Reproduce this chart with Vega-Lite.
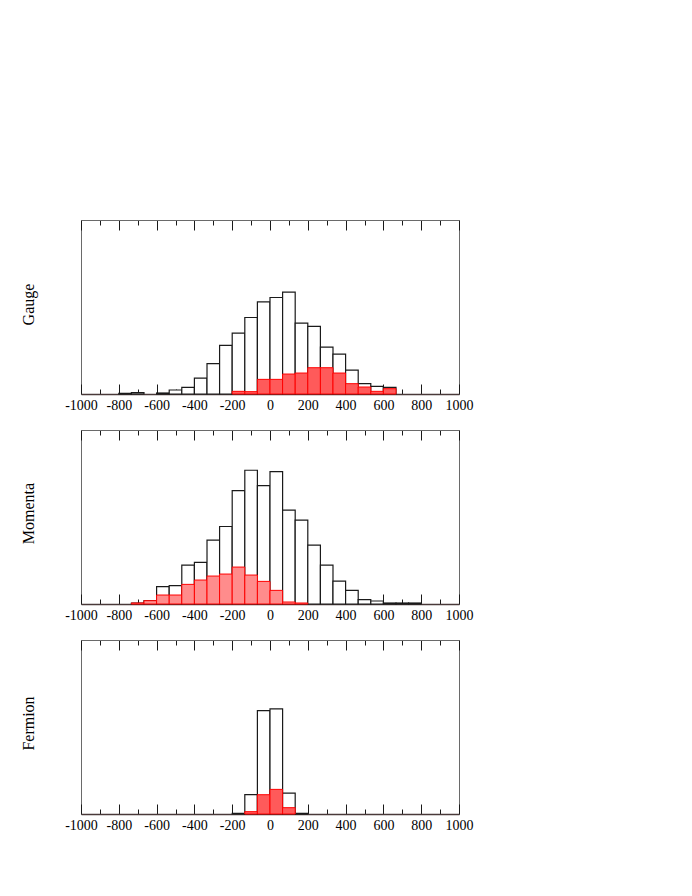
{
  "$schema": "https://vega.github.io/schema/vega-lite/v6.json",
  "bounds": "flush",
  "spacing": 36,
  "padding": {"left": 19, "top": 219, "right": 0, "bottom": 0},
  "background": "white",
  "config": {
    "view": {"stroke": "#6a6a6a", "strokeWidth": 1},
    "axis": {"grid": false, "labelFont": "Liberation Serif", "labelFontSize": 14, "labelColor": "black", "titleFont": "Liberation Serif", "titleFontSize": 16, "titleFontWeight": "normal", "titleColor": "black"}
  },
  "datasets": {
    "hist": [
      {"panel": "Gauge", "series": "all", "lo": -800, "hi": -733.3, "n": 2},
      {"panel": "Gauge", "series": "all", "lo": -733.3, "hi": -666.7, "n": 4},
      {"panel": "Gauge", "series": "all", "lo": -600, "hi": -533.3, "n": 3},
      {"panel": "Gauge", "series": "all", "lo": -533.3, "hi": -466.7, "n": 12},
      {"panel": "Gauge", "series": "all", "lo": -466.7, "hi": -400, "n": 20},
      {"panel": "Gauge", "series": "all", "lo": -400, "hi": -333.3, "n": 48},
      {"panel": "Gauge", "series": "all", "lo": -333.3, "hi": -266.7, "n": 91},
      {"panel": "Gauge", "series": "all", "lo": -266.7, "hi": -200, "n": 146},
      {"panel": "Gauge", "series": "all", "lo": -200, "hi": -133.3, "n": 183},
      {"panel": "Gauge", "series": "all", "lo": -133.3, "hi": -66.7, "n": 230},
      {"panel": "Gauge", "series": "all", "lo": -66.7, "hi": 0, "n": 277},
      {"panel": "Gauge", "series": "all", "lo": 0, "hi": 66.7, "n": 290},
      {"panel": "Gauge", "series": "all", "lo": 66.7, "hi": 133.3, "n": 306},
      {"panel": "Gauge", "series": "all", "lo": 133.3, "hi": 200, "n": 213},
      {"panel": "Gauge", "series": "all", "lo": 200, "hi": 266.7, "n": 203},
      {"panel": "Gauge", "series": "all", "lo": 266.7, "hi": 333.3, "n": 141},
      {"panel": "Gauge", "series": "all", "lo": 333.3, "hi": 400, "n": 120},
      {"panel": "Gauge", "series": "all", "lo": 400, "hi": 466.7, "n": 72},
      {"panel": "Gauge", "series": "all", "lo": 466.7, "hi": 533.3, "n": 31},
      {"panel": "Gauge", "series": "all", "lo": 533.3, "hi": 600, "n": 23},
      {"panel": "Gauge", "series": "all", "lo": 600, "hi": 666.7, "n": 20},
      {"panel": "Gauge", "series": "sub", "lo": -200, "hi": -133.3, "n": 8},
      {"panel": "Gauge", "series": "sub", "lo": -133.3, "hi": -66.7, "n": 7},
      {"panel": "Gauge", "series": "sub", "lo": -66.7, "hi": 0, "n": 44},
      {"panel": "Gauge", "series": "sub", "lo": 0, "hi": 66.7, "n": 44},
      {"panel": "Gauge", "series": "sub", "lo": 66.7, "hi": 133.3, "n": 60},
      {"panel": "Gauge", "series": "sub", "lo": 133.3, "hi": 200, "n": 63},
      {"panel": "Gauge", "series": "sub", "lo": 200, "hi": 266.7, "n": 79},
      {"panel": "Gauge", "series": "sub", "lo": 266.7, "hi": 333.3, "n": 79},
      {"panel": "Gauge", "series": "sub", "lo": 333.3, "hi": 400, "n": 63},
      {"panel": "Gauge", "series": "sub", "lo": 400, "hi": 466.7, "n": 31},
      {"panel": "Gauge", "series": "sub", "lo": 466.7, "hi": 533.3, "n": 21},
      {"panel": "Gauge", "series": "sub", "lo": 533.3, "hi": 600, "n": 8},
      {"panel": "Gauge", "series": "sub", "lo": 600, "hi": 666.7, "n": 16},
      {"panel": "Momenta", "series": "all", "lo": -733.3, "hi": -666.7, "n": 3},
      {"panel": "Momenta", "series": "all", "lo": -666.7, "hi": -600, "n": 10},
      {"panel": "Momenta", "series": "all", "lo": -600, "hi": -533.3, "n": 52},
      {"panel": "Momenta", "series": "all", "lo": -533.3, "hi": -466.7, "n": 55},
      {"panel": "Momenta", "series": "all", "lo": -466.7, "hi": -400, "n": 117},
      {"panel": "Momenta", "series": "all", "lo": -400, "hi": -333.3, "n": 125},
      {"panel": "Momenta", "series": "all", "lo": -333.3, "hi": -266.7, "n": 192},
      {"panel": "Momenta", "series": "all", "lo": -266.7, "hi": -200, "n": 233},
      {"panel": "Momenta", "series": "all", "lo": -200, "hi": -133.3, "n": 341},
      {"panel": "Momenta", "series": "all", "lo": -133.3, "hi": -66.7, "n": 402},
      {"panel": "Momenta", "series": "all", "lo": -66.7, "hi": 0, "n": 356},
      {"panel": "Momenta", "series": "all", "lo": 0, "hi": 66.7, "n": 398},
      {"panel": "Momenta", "series": "all", "lo": 66.7, "hi": 133.3, "n": 282},
      {"panel": "Momenta", "series": "all", "lo": 133.3, "hi": 200, "n": 252},
      {"panel": "Momenta", "series": "all", "lo": 200, "hi": 266.7, "n": 177},
      {"panel": "Momenta", "series": "all", "lo": 266.7, "hi": 333.3, "n": 117},
      {"panel": "Momenta", "series": "all", "lo": 333.3, "hi": 400, "n": 69},
      {"panel": "Momenta", "series": "all", "lo": 400, "hi": 466.7, "n": 41},
      {"panel": "Momenta", "series": "all", "lo": 466.7, "hi": 533.3, "n": 13},
      {"panel": "Momenta", "series": "all", "lo": 533.3, "hi": 600, "n": 9},
      {"panel": "Momenta", "series": "all", "lo": 600, "hi": 666.7, "n": 3},
      {"panel": "Momenta", "series": "all", "lo": 666.7, "hi": 733.3, "n": 3},
      {"panel": "Momenta", "series": "all", "lo": 733.3, "hi": 800, "n": 3},
      {"panel": "Momenta", "series": "sub", "lo": -733.3, "hi": -666.7, "n": 3},
      {"panel": "Momenta", "series": "sub", "lo": -666.7, "hi": -600, "n": 10},
      {"panel": "Momenta", "series": "sub", "lo": -600, "hi": -533.3, "n": 27},
      {"panel": "Momenta", "series": "sub", "lo": -533.3, "hi": -466.7, "n": 27},
      {"panel": "Momenta", "series": "sub", "lo": -466.7, "hi": -400, "n": 59},
      {"panel": "Momenta", "series": "sub", "lo": -400, "hi": -333.3, "n": 72},
      {"panel": "Momenta", "series": "sub", "lo": -333.3, "hi": -266.7, "n": 84},
      {"panel": "Momenta", "series": "sub", "lo": -266.7, "hi": -200, "n": 90},
      {"panel": "Momenta", "series": "sub", "lo": -200, "hi": -133.3, "n": 111},
      {"panel": "Momenta", "series": "sub", "lo": -133.3, "hi": -66.7, "n": 87},
      {"panel": "Momenta", "series": "sub", "lo": -66.7, "hi": 0, "n": 68},
      {"panel": "Momenta", "series": "sub", "lo": 0, "hi": 66.7, "n": 41},
      {"panel": "Momenta", "series": "sub", "lo": 66.7, "hi": 133.3, "n": 6},
      {"panel": "Momenta", "series": "sub", "lo": 133.3, "hi": 200, "n": 3},
      {"panel": "Fermion", "series": "all", "lo": -200, "hi": -133.3, "n": 2},
      {"panel": "Fermion", "series": "all", "lo": -133.3, "hi": -66.7, "n": 58},
      {"panel": "Fermion", "series": "all", "lo": -66.7, "hi": 0, "n": 311},
      {"panel": "Fermion", "series": "all", "lo": 0, "hi": 66.7, "n": 316},
      {"panel": "Fermion", "series": "all", "lo": 66.7, "hi": 133.3, "n": 63},
      {"panel": "Fermion", "series": "all", "lo": 133.3, "hi": 200, "n": 2},
      {"panel": "Fermion", "series": "sub", "lo": -133.3, "hi": -66.7, "n": 7},
      {"panel": "Fermion", "series": "sub", "lo": -66.7, "hi": 0, "n": 58},
      {"panel": "Fermion", "series": "sub", "lo": 0, "hi": 66.7, "n": 74},
      {"panel": "Fermion", "series": "sub", "lo": 66.7, "hi": 133.3, "n": 19}
    ]
  },
  "vconcat": [
    {
      "width": 378, "height": 174,
      "data": {"name": "hist"},
      "transform": [{"filter": "datum.panel === 'Gauge'"}],
      "layer": [
        {
          "transform": [{"filter": "datum.series === 'all'"}],
          "mark": {"type": "rect", "fill": "white", "stroke": "#1a1a1a", "strokeWidth": 1.2},
          "encoding": {
            "x": {"field": "lo", "type": "quantitative", "scale": {"domain": [-1000, 1000], "nice": false, "zero": false},
              "axis": {"orient": "bottom", "title": null, "values": [-1000,-900,-800,-700,-600,-500,-400,-300,-200,-100,0,100,200,300,400,500,600,700,800,900,1000], "labelExpr": "datum.value % 200 === 0 ? '' + datum.value : ''", "labelOverlap": false, "labelFlush": false, "labelPadding": 14, "tickColor": "#1a1a1a", "tickSize": {"condition": {"test": "datum.value % 200 === 0", "value": -10}, "value": -5}, "domainColor": "#4a3a3a", "domainWidth": 1.5}},
            "x2": {"field": "hi"},
            "y": {"field": "n", "type": "quantitative", "scale": {"domain": [0, 523], "nice": false},
              "axis": {"title": "Gauge", "labels": false, "ticks": false, "domain": false, "titlePadding": 45, "titleY": 84, "minExtent": 0}},
            "y2": {"datum": 0}
          }
        },
        {
          "transform": [{"filter": "datum.series === 'sub'"}],
          "mark": {"type": "rect", "fill": "#ff5a5a", "stroke": "#ff0000", "strokeWidth": 1},
          "encoding": {
            "x": {"field": "lo", "type": "quantitative", "scale": {"domain": [-1000, 1000], "nice": false, "zero": false},
              "axis": {"orient": "top", "title": null, "labels": false, "values": [-1000,-900,-800,-700,-600,-500,-400,-300,-200,-100,0,100,200,300,400,500,600,700,800,900,1000], "tickColor": "#1a1a1a", "tickSize": {"condition": {"test": "datum.value % 200 === 0", "value": -10}, "value": -5}, "domainColor": "#6a6a6a"}},
            "x2": {"field": "hi"},
            "y": {"field": "n", "type": "quantitative", "scale": {"domain": [0, 523], "nice": false},
              "axis": {"title": "Gauge", "labels": false, "ticks": false, "domain": false, "titlePadding": 45, "titleY": 84, "minExtent": 0}},
            "y2": {"datum": 0}
          }
        }
      ],
      "resolve": {"axis": {"x": "independent"}}
    },
    {
      "width": 378, "height": 174,
      "data": {"name": "hist"},
      "transform": [{"filter": "datum.panel === 'Momenta'"}],
      "layer": [
        {
          "transform": [{"filter": "datum.series === 'all'"}],
          "mark": {"type": "rect", "fill": "white", "stroke": "#1a1a1a", "strokeWidth": 1.2},
          "encoding": {
            "x": {"field": "lo", "type": "quantitative", "scale": {"domain": [-1000, 1000], "nice": false, "zero": false},
              "axis": {"orient": "bottom", "title": null, "values": [-1000,-900,-800,-700,-600,-500,-400,-300,-200,-100,0,100,200,300,400,500,600,700,800,900,1000], "labelExpr": "datum.value % 200 === 0 ? '' + datum.value : ''", "labelOverlap": false, "labelFlush": false, "labelPadding": 14, "tickColor": "#1a1a1a", "tickSize": {"condition": {"test": "datum.value % 200 === 0", "value": -10}, "value": -5}, "domainColor": "#4a3a3a", "domainWidth": 1.5}},
            "x2": {"field": "hi"},
            "y": {"field": "n", "type": "quantitative", "scale": {"domain": [0, 523], "nice": false},
              "axis": {"title": "Momenta", "labels": false, "ticks": false, "domain": false, "titlePadding": 45, "titleY": 83, "minExtent": 0}},
            "y2": {"datum": 0}
          }
        },
        {
          "transform": [{"filter": "datum.series === 'sub'"}],
          "mark": {"type": "rect", "fill": "#ff8c8c", "stroke": "#ff0000", "strokeWidth": 1},
          "encoding": {
            "x": {"field": "lo", "type": "quantitative", "scale": {"domain": [-1000, 1000], "nice": false, "zero": false},
              "axis": {"orient": "top", "title": null, "labels": false, "values": [-1000,-900,-800,-700,-600,-500,-400,-300,-200,-100,0,100,200,300,400,500,600,700,800,900,1000], "tickColor": "#1a1a1a", "tickSize": {"condition": {"test": "datum.value % 200 === 0", "value": -10}, "value": -5}, "domainColor": "#6a6a6a"}},
            "x2": {"field": "hi"},
            "y": {"field": "n", "type": "quantitative", "scale": {"domain": [0, 523], "nice": false},
              "axis": {"title": "Momenta", "labels": false, "ticks": false, "domain": false, "titlePadding": 45, "titleY": 83, "minExtent": 0}},
            "y2": {"datum": 0}
          }
        }
      ],
      "resolve": {"axis": {"x": "independent"}}
    },
    {
      "width": 378, "height": 174,
      "data": {"name": "hist"},
      "transform": [{"filter": "datum.panel === 'Fermion'"}],
      "layer": [
        {
          "transform": [{"filter": "datum.series === 'all'"}],
          "mark": {"type": "rect", "fill": "white", "stroke": "#1a1a1a", "strokeWidth": 1.2},
          "encoding": {
            "x": {"field": "lo", "type": "quantitative", "scale": {"domain": [-1000, 1000], "nice": false, "zero": false},
              "axis": {"orient": "bottom", "title": null, "values": [-1000,-900,-800,-700,-600,-500,-400,-300,-200,-100,0,100,200,300,400,500,600,700,800,900,1000], "labelExpr": "datum.value % 200 === 0 ? '' + datum.value : ''", "labelOverlap": false, "labelFlush": false, "labelPadding": 14, "tickColor": "#1a1a1a", "tickSize": {"condition": {"test": "datum.value % 200 === 0", "value": -10}, "value": -5}, "domainColor": "#4a3a3a", "domainWidth": 1.5}},
            "x2": {"field": "hi"},
            "y": {"field": "n", "type": "quantitative", "scale": {"domain": [0, 523], "nice": false},
              "axis": {"title": "Fermion", "labels": false, "ticks": false, "domain": false, "titlePadding": 45, "titleY": 83, "minExtent": 0}},
            "y2": {"datum": 0}
          }
        },
        {
          "transform": [{"filter": "datum.series === 'sub'"}],
          "mark": {"type": "rect", "fill": "#ff5a5a", "stroke": "#ff0000", "strokeWidth": 1},
          "encoding": {
            "x": {"field": "lo", "type": "quantitative", "scale": {"domain": [-1000, 1000], "nice": false, "zero": false},
              "axis": {"orient": "top", "title": null, "labels": false, "values": [-1000,-900,-800,-700,-600,-500,-400,-300,-200,-100,0,100,200,300,400,500,600,700,800,900,1000], "tickColor": "#1a1a1a", "tickSize": {"condition": {"test": "datum.value % 200 === 0", "value": -10}, "value": -5}, "domainColor": "#6a6a6a"}},
            "x2": {"field": "hi"},
            "y": {"field": "n", "type": "quantitative", "scale": {"domain": [0, 523], "nice": false},
              "axis": {"title": "Fermion", "labels": false, "ticks": false, "domain": false, "titlePadding": 45, "titleY": 83, "minExtent": 0}},
            "y2": {"datum": 0}
          }
        }
      ],
      "resolve": {"axis": {"x": "independent"}}
    }
  ]
}
